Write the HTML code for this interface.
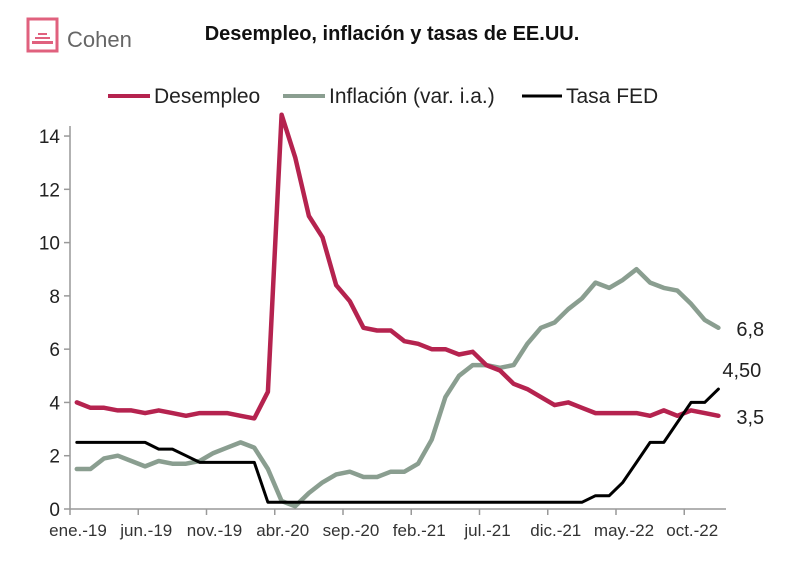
<!DOCTYPE html>
<html><head><meta charset="utf-8"><style>
body{margin:0;background:#fff;}
svg text{font-family:"Liberation Sans",sans-serif;}
</style></head><body>
<svg id="chart" width="800" height="560" viewBox="0 0 800 560">
<g>
<rect x="28" y="19" width="29" height="32" fill="none" stroke="#e0617e" stroke-width="3"/>
<rect x="38" y="33" width="9" height="2" fill="#e0617e"/>
<rect x="35" y="37" width="15" height="2" fill="#e0617e"/>
<rect x="32" y="41" width="21" height="3" fill="#e0617e"/>
<text x="67" y="47" font-size="22" fill="#666">Cohen</text>
</g>
<text x="392" y="40" font-size="20" font-weight="bold" text-anchor="middle" fill="#111">Desempleo, inflación y tasas de EE.UU.</text>
<g>
<g><line x1="108" y1="96" x2="150" y2="96" stroke="#b5234f" stroke-width="4"/><text x="154" y="103" font-size="21" fill="#222">Desempleo</text></g>
<g><line x1="283" y1="96" x2="325" y2="96" stroke="#8a9e90" stroke-width="4"/><text x="329" y="103" font-size="21" fill="#222">Inflación (var. i.a.)</text></g>
<g><line x1="522" y1="96" x2="562" y2="96" stroke="#000" stroke-width="3"/><text x="566" y="103" font-size="21" fill="#222">Tasa FED</text></g>
</g>
<g id="axes"></g>
<g id="series"></g>
</svg>
<script>
const xLabels=["ene.-19","jun.-19","nov.-19","abr.-20","sep.-20","feb.-21","jul.-21","dic.-21","may.-22","oct.-22"];
const yTicks=[0,2,4,6,8,10,12,14];
const desempleo=[4.0,3.8,3.8,3.7,3.7,3.6,3.7,3.6,3.5,3.6,3.6,3.6,3.5,3.4,4.4,14.8,13.2,11.0,10.2,8.4,7.8,6.8,6.7,6.7,6.3,6.2,6.0,6.0,5.8,5.9,5.4,5.2,4.7,4.5,4.2,3.9,4.0,3.8,3.6,3.6,3.6,3.6,3.5,3.7,3.5,3.7,3.6,3.5];
const inflacion=[1.5,1.5,1.9,2.0,1.8,1.6,1.8,1.7,1.7,1.8,2.1,2.3,2.5,2.3,1.5,0.3,0.1,0.6,1.0,1.3,1.4,1.2,1.2,1.4,1.4,1.7,2.6,4.2,5.0,5.4,5.4,5.3,5.4,6.2,6.8,7.0,7.5,7.9,8.5,8.3,8.6,9.0,8.5,8.3,8.2,7.7,7.1,6.8];
const tasaFed=[2.5,2.5,2.5,2.5,2.5,2.5,2.25,2.25,2.0,1.75,1.75,1.75,1.75,1.75,0.25,0.25,0.25,0.25,0.25,0.25,0.25,0.25,0.25,0.25,0.25,0.25,0.25,0.25,0.25,0.25,0.25,0.25,0.25,0.25,0.25,0.25,0.25,0.25,0.5,0.5,1.0,1.75,2.5,2.5,3.25,4.0,4.0,4.5];
const endLabels=["3,5","6,8","4,50"];
const NS="http://www.w3.org/2000/svg";
const X0=70,MW=13.65,Y0=509,UY=26.64;
const xs=i=>X0+(i+0.5)*MW, ys=v=>Y0-v*UY;
function mk(t,a,p){const e=document.createElementNS(NS,t);for(const k in a)e.setAttribute(k,a[k]);p.appendChild(e);return e;}
const ax=document.getElementById('axes'), se=document.getElementById('series');
const yl=mk('line',{x1:X0,y1:Y0,x2:X0,y2:126,stroke:'#999','stroke-width':1.5},ax);


const xl=mk('line',{x1:X0,y1:Y0,x2:726,y2:Y0,stroke:'#999','stroke-width':1.5},ax);


yTicks.forEach(v=>{
  mk('line',{x1:X0-6,y1:ys(v),x2:X0,y2:ys(v),stroke:'#999','stroke-width':1.5},ax);
  const t=mk('text',{x:X0-10,y:ys(v)+7,'font-size':19,'text-anchor':'end',fill:'#222'},ax);t.textContent=v;
  
  
});
xLabels.forEach((l,k)=>{
  const x=X0+k*5*MW;
  mk('line',{x1:x,y1:Y0,x2:x,y2:Y0+6,stroke:'#999','stroke-width':1.5},ax);
  const t=mk('text',{x:x+8,y:Y0+27,'font-size':17,'text-anchor':'middle',fill:'#333'},ax);t.textContent=l;
  
  
});
function line(arr,col,w,name){
  const d=arr.map((v,i)=>(i?'L':'M')+xs(i).toFixed(1)+' '+ys(v).toFixed(1)).join(' ');
  const p=mk('path',{d:d,fill:'none',stroke:col,'stroke-width':w,'stroke-linejoin':'round','stroke-linecap':'round'},se);
  
  
}
line(inflacion,'#8a9e90',4.5,'inflacion-line');
line(desempleo,'#b5234f',4.5,'desempleo-line');
line(tasaFed,'#000',3,'tasa-fed-line');
const n=desempleo.length-1;
[[desempleo[n],18,8,endLabels[0],'desempleo-end-label'],[inflacion[n],18,8,endLabels[1],'inflacion-end-label'],[tasaFed[n],4,-12,endLabels[2],'tasa-fed-end-label']].forEach(a=>{
  const t=mk('text',{x:xs(n)+a[1],y:ys(a[0])+a[2],'font-size':20,fill:'#222'},se);
  t.textContent=a[3];
  
  
});
</script>
</body></html>
